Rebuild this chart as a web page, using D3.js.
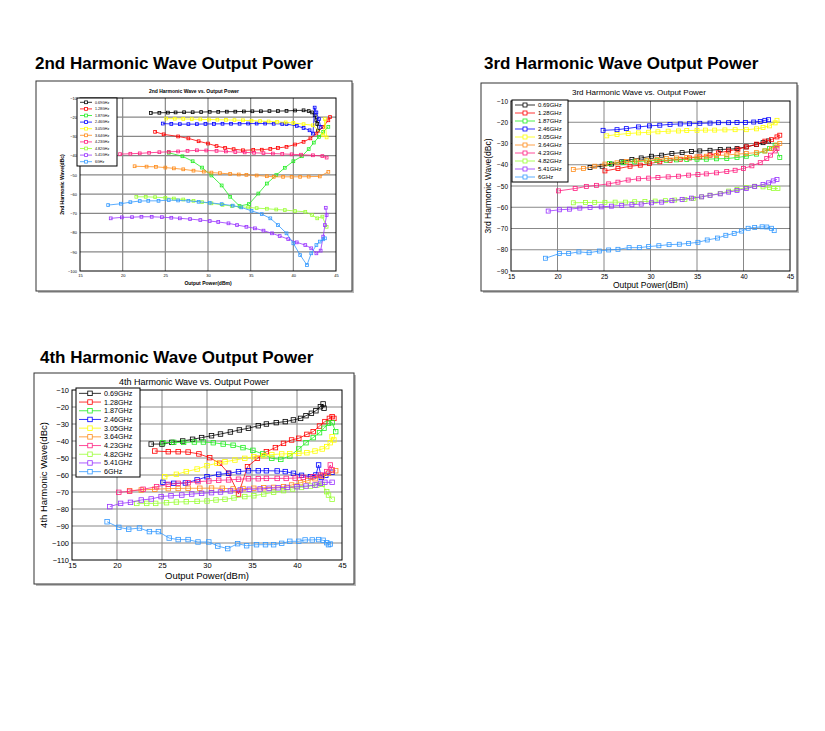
<!DOCTYPE html>
<html><head><meta charset="utf-8">
<script src="https://cdn.jsdelivr.net/npm/d3@7/dist/d3.min.js"></script>
<style>body{margin:0;background:#fff}svg{display:block}</style>
</head><body><svg id="c" width="825" height="731"></svg>
<script>
const seriesNames=["0.69GHz","1.28GHz","1.87GHz","2.46GHz","3.05GHz","3.64GHz","4.23GHz","4.82GHz","5.41GHz","6GHz"];
const seriesColors=["#000000","#ff0000","#22ee22","#0000ff","#ffff00","#ff8c1a","#ff2080","#99ff33","#9933ff","#3399ff"];
const xTicks=[15,20,25,30,35,40,45];
const yTicks2=[-10,-20,-30,-40,-50,-60,-70,-80,-90,-100];
const yTicks3=[-10,-20,-30,-40,-50,-60,-70,-80,-90];
const yTicks4=[-10,-20,-30,-40,-50,-60,-70,-80,-90,-100,-110];

// 2nd harmonic
const h2_069=[[23.3,-17.8],[24.3,-17.7],[25.3,-17.6],[26.2,-17.5],[27.2,-17.4],[28.2,-17.4],[29.2,-17.3],[30.2,-17.2],[31.2,-17.2],[32.2,-17.1],[33.2,-17.1],[34.2,-17],[35.2,-16.9],[36.2,-16.9],[37.2,-16.8],[38.2,-16.8],[39.2,-16.7],[40.2,-16.5],[41.2,-16.4],[41.8,-16.8],[42.2,-17.5],[42.5,-19],[42.7,-21.5],[42.8,-23.5],[42.9,-27]];
const h2_128=[[23.8,-27.6],[24.8,-28.9],[26.5,-30],[27.7,-31],[28.9,-32.5],[30,-33.7],[31,-35],[32,-36],[33,-36.6],[34.1,-37.2],[35.3,-37],[36.3,-36.9],[37.3,-36.5],[38.2,-36],[39.2,-35.4],[40.2,-34.2],[41.2,-32.8],[42,-31],[42.7,-28.5],[43.5,-25],[44.1,-21.6],[44.3,-19.9]];
const h2_187=[[25.4,-38.5],[27,-40.3],[28.2,-42.9],[29.3,-46.2],[30.4,-50.3],[31.6,-55.5],[32.6,-61.4],[33.7,-66.2],[34.8,-65.2],[35.9,-59.7],[36.9,-54.5],[38,-50.1],[39,-46.3],[40,-42.9],[41,-40.3],[41.8,-36.6],[42.4,-33.2],[43,-30.2],[43.5,-27.6],[44.1,-25]];
const h2_246=[[24.7,-23.3],[25.7,-23.5],[26.7,-23.6],[27.7,-23.6],[28.7,-23.6],[29.7,-23.5],[30.7,-23.5],[31.7,-23.4],[32.7,-23.4],[33.7,-23.4],[34.7,-23.3],[35.7,-23.3],[36.7,-23.3],[37.7,-23.4],[38.7,-23.5],[39.2,-23.6],[40.4,-24.5],[41.2,-25.6],[41.9,-26.8],[42.3,-28.5],[42.5,-15],[42.7,-17.5],[43,-21],[43.2,-25]];
const h2_305=[[25.1,-20.7],[26.1,-20.8],[27.1,-20.9],[28.1,-21],[29.1,-21.1],[30.1,-21.2],[31.1,-21.3],[32.1,-21.4],[33.1,-21.5],[34.1,-21.6],[35.1,-21.8],[36.1,-22],[37.1,-22.2],[38.1,-22.4],[39.1,-22.7],[40,-23],[41.2,-23.6],[42.3,-24.2],[43.5,-29.4],[43.7,-21],[43.9,-30.5]];
const h2_364=[[21.4,-45.5],[22.8,-45.7],[23.9,-45.8],[25,-46.2],[26,-46.6],[27.1,-47.1],[28.3,-47.8],[29.5,-48.3],[30.4,-48.8],[31.4,-49.1],[32.6,-49.5],[33.6,-49.8],[34.5,-50],[35.7,-50.3],[36.9,-50.7],[37.7,-51],[38.8,-51],[39.8,-51],[40.8,-51],[41.8,-50.9],[43.1,-50.8],[44.1,-48.4]];
const h2_423=[[19.7,-39.2],[20.9,-39],[22,-38.8],[23.1,-38.5],[24.3,-38.2],[25.4,-38],[26.5,-37.8],[27.6,-37.5],[28.7,-37.2],[29.8,-37.3],[31,-37.5],[32.1,-37.8],[33.2,-38.1],[34.3,-38.3],[35.4,-38.5],[36.5,-38.7],[37.6,-38.9],[38.7,-39.1],[39.8,-39.3],[40.9,-39.5],[42.3,-39.8],[43.4,-40.2],[43.9,-41]];
const h2_482=[[21.6,-61.4],[22.7,-61.4],[23.8,-61.6],[25,-61.9],[26,-62.3],[27.1,-62.8],[28.3,-63.5],[29.3,-64.2],[30.4,-64.8],[31.7,-65.6],[32.8,-66.2],[33.8,-66.6],[34.7,-66.9],[35.7,-67.3],[36.9,-67.6],[38,-68],[39,-68.3],[40.2,-68.8],[41.4,-69.2],[42.2,-70.9],[42.8,-72.6],[43.4,-71.7],[43.9,-77]];
const h2_541=[[18.6,-72.6],[19.9,-72.1],[21.1,-72],[22.2,-71.8],[23.4,-71.8],[24.6,-72],[25.7,-72.3],[26.7,-72.6],[27.9,-73],[29.1,-73.5],[30.2,-74],[31.2,-74.5],[32.4,-75.2],[33.4,-76.1],[34.5,-77],[35.5,-77.8],[36.5,-79],[37.5,-80.4],[38.4,-81.8],[39.4,-83.4],[40.4,-85.1],[41.4,-86.5],[42.1,-88.2],[42.7,-90.8],[43.2,-89.4],[43.5,-82.1],[43.7,-76.1],[43.9,-70.9],[43.8,-67.1]];
const h2_600=[[18.3,-65.7],[19.8,-65],[20.9,-64.2],[22,-63.6],[23,-63.5],[24.2,-63.5],[25.4,-63.1],[26.5,-63.3],[27.7,-63.5],[28.9,-64],[30.2,-64.5],[31.6,-65.2],[32.9,-66],[33.9,-66.9],[35.1,-68.7],[36.3,-70.4],[37.3,-72.6],[38.2,-76.1],[39.2,-80.4],[40,-85.6],[40.8,-91.7],[41.6,-96.9],[42.1,-90.8],[42.7,-86.5],[43.1,-84.7],[43.5,-83.5],[43.7,-83]];

// 3rd harmonic
const h3_069=[[23.5,-41.3],[24.8,-40.7],[25.8,-39.7],[26.9,-38.6],[28,-37.5],[29,-36.8],[30.1,-36],[31.2,-35.5],[32.3,-34.7],[33.4,-34.3],[34.4,-33.8],[35.3,-33.5],[36.4,-33.2],[37.5,-32.8],[38.4,-32.7],[39.3,-32.4],[40.3,-31.6],[41.4,-30.5],[42.1,-29.6],[42.7,-28.8]];
const h3_128=[[25.1,-42.9],[26.5,-41.8],[27.8,-40.7],[28.9,-40.2],[29.9,-39.4],[31,-38.6],[32.1,-37.9],[33.2,-37.4],[34.2,-36.8],[35.3,-36.3],[36.4,-35.5],[37.3,-34.4],[38.4,-33.5],[39.4,-32.7],[40.3,-31.6],[41.4,-30.3],[42.3,-28.9],[43,-28.2],[43.6,-26.9],[43.9,-26.1]];
const h3_187=[[25.6,-39.4],[27.1,-38.9],[28.3,-38.6],[29.6,-38.2],[30.7,-37.9],[31.7,-37.9],[32.8,-37.7],[33.9,-37.5],[35,-37.4],[36,-37.4],[37.1,-37.2],[38.2,-37.1],[39.3,-36.6],[40.3,-36],[41.4,-35],[42.3,-33.5],[42.8,-32.4],[43.4,-30.8],[43.9,-36.6]];
const h3_246=[[24.9,-23.8],[26.4,-23.5],[27.4,-23],[28.7,-22.2],[29.9,-21.7],[31,-21.4],[32.1,-21],[33.2,-20.8],[34.2,-20.7],[35.3,-20.5],[36.4,-20.4],[37.3,-20.2],[38.4,-20.2],[39.3,-20.1],[40.2,-20.1],[41.1,-19.9],[41.8,-19.6],[42.3,-19.1],[42.7,-18.8]];
const h3_305=[[25.3,-26.4],[26.4,-25.8],[27.6,-25.3],[28.7,-25],[29.8,-24.7],[30.8,-24.5],[31.9,-24.2],[33,-24.1],[33.9,-23.9],[35,-23.8],[35.9,-23.7],[36.9,-23.7],[38,-23.6],[39.1,-23.5],[40.3,-23.5],[41.4,-23.1],[42.1,-22.5],[42.8,-21.7],[43.4,-20.3],[43.6,-19.1]];
const h3_364=[[21.7,-42.2],[22.8,-41.8],[24,-40.7],[25.1,-39.7],[26.4,-39.1],[27.4,-38.5],[28.5,-38.2],[29.6,-37.9],[30.7,-37.5],[31.7,-37.1],[32.8,-36.8],[33.9,-36.6],[35,-36.3],[36,-36],[37.1,-35.7],[38.2,-35.4],[39.3,-35],[40.3,-34.7],[41.4,-34.3],[42.3,-33.5],[43,-32.4],[43.6,-30.8],[43.9,-30]];
const h3_423=[[20.1,-52.3],[21.9,-51.2],[23.1,-50.2],[24.2,-49.7],[25.5,-49],[26.5,-48.2],[27.6,-47.2],[28.7,-46.6],[29.8,-46.3],[30.8,-46],[31.9,-45.7],[33,-45.4],[34.1,-44.9],[35.1,-44.6],[36,-44.3],[37.1,-43.8],[38.2,-43.2],[39.1,-42.6],[40,-41.8],[40.9,-40.5],[41.8,-39],[42.5,-37.1],[42.9,-35.5],[43.4,-33.5],[43.6,-32.4]];
const h3_482=[[21.7,-57.9],[23,-57.8],[24,-57.7],[25.1,-57.7],[26.2,-57.6],[27.3,-57.6],[28.3,-57.4],[29.4,-57.3],[30.5,-57.1],[31.6,-56.9],[32.6,-56.6],[33.7,-56.3],[34.6,-55.9],[35.5,-55.1],[36.4,-54.3],[37.5,-53.5],[38.4,-52.4],[39.3,-51.6],[40.3,-50.8],[41.2,-50.1],[42.1,-50.4],[42.8,-50.7],[43.2,-51.2],[43.7,-51.2]];
const h3_541=[[19,-61.8],[20.2,-61.2],[21.3,-60.9],[22.4,-60.4],[23.5,-60.1],[24.7,-59.8],[25.8,-59.5],[26.9,-59.1],[28,-58.8],[29,-58.5],[30.1,-57.9],[31.2,-57.6],[32.3,-56.9],[33.4,-56.3],[34.4,-55.7],[35.5,-55.1],[36.4,-54.4],[37.5,-53.7],[38.4,-52.9],[39.3,-52.1],[40.3,-51.2],[41.2,-50.2],[42.1,-49.3],[42.7,-48.5],[43.2,-47.6],[43.6,-46.9]];
const h3_600=[[18.7,-84],[20.2,-81.8],[21.2,-81.8],[22.3,-81],[23.4,-81.4],[24.5,-80.6],[25.5,-80.1],[26.5,-79.8],[27.7,-79],[28.8,-79],[29.8,-78.5],[30.9,-78.1],[32,-77.6],[33.1,-77.4],[34.1,-77],[35.1,-76.5],[36.1,-75.4],[37.2,-74.5],[38.1,-73.2],[39,-72.3],[39.8,-71.2],[40.5,-69.9],[41.2,-69.5],[42,-69.2],[42.5,-69.3],[43,-69.9],[43.3,-71]];

// 4th harmonic
const h4_069=[[23.8,-41.8],[25,-41.8],[26.1,-40.8],[27.3,-40],[28.4,-39],[29.4,-38],[30.5,-36.9],[31.5,-35.9],[32.6,-34.7],[33.6,-33.5],[34.6,-32.5],[35.7,-31],[36.6,-30],[37.7,-29.2],[38.7,-28.6],[39.6,-27.6],[40.4,-26.7],[41,-25.1],[41.6,-23.7],[42.1,-22.2],[42.6,-19.8],[42.9,-18.2],[43,-20.7]];
const h4_128=[[24.2,-45.9],[25.7,-46.3],[26.8,-46.3],[27.9,-46.5],[29.1,-47.6],[30.3,-49.8],[31.4,-53.1],[32.4,-59],[33.5,-71.2],[34.5,-55.1],[35.6,-50.2],[36.6,-46.3],[37.6,-43.9],[38.5,-41.4],[39.4,-39.4],[40.2,-38.4],[41.1,-36.1],[41.8,-34.5],[42.5,-31.2],[43.1,-28.6],[43.6,-26.7],[43.9,-25.7],[44.1,-26.7]];
const h4_187=[[25.1,-41],[26.3,-40.8],[27.4,-40.8],[28.6,-40.6],[29.6,-40.6],[30.7,-41],[31.8,-41.8],[32.9,-42.5],[34,-43.9],[35.1,-45.5],[36.2,-47.6],[37.2,-50.2],[38.2,-50.8],[39.2,-48.8],[40.2,-44.7],[41,-41],[41.8,-38],[42.5,-35.1],[43,-32.5],[43.5,-29.6],[43.9,-29.2],[44.3,-34.5]];
const h4_246=[[25.1,-64.3],[26.3,-64.9],[27.6,-64.7],[28.9,-62.9],[30,-61],[31.3,-59.6],[32.4,-59],[33.5,-58],[34.6,-57.5],[35.7,-57.5],[36.6,-57.5],[37.8,-57.6],[38.7,-58],[39.6,-59],[40.5,-60.2],[41.5,-61],[42.1,-60],[42.4,-54.1],[42.7,-61.4],[43.2,-60.2],[43.9,-58.4]];
const h4_305=[[25.3,-61],[26.6,-59.6],[27.7,-58],[28.9,-56.5],[30,-54.5],[31.1,-53.1],[32,-52.2],[33.1,-51.2],[34.2,-50.2],[35.2,-49.2],[36.3,-48.6],[37.2,-48],[38.3,-47.6],[39.2,-47.5],[40.2,-47.3],[41.1,-46.9],[42,-45.9],[42.8,-44.7],[43.3,-43.3],[43.7,-41],[43.9,-37.5],[44.1,-39.4]];
const h4_364=[[21.4,-69.2],[22.7,-68.8],[24.2,-68.4],[25.7,-68],[26.8,-67.9],[27.9,-67.8],[29.2,-67.8],[30.5,-67.7],[31.7,-67.8],[32.9,-68.2],[34,-68],[35.2,-67.8],[36.3,-67.5],[37.4,-67.3],[38.5,-66.9],[39.4,-65.9],[40.4,-64.5],[41.2,-63.3],[42,-62.2],[42.8,-60.6],[43.5,-59],[44.3,-57.5]];
const h4_423=[[20.2,-70.2],[21.4,-69.6],[22.9,-68.4],[24.4,-66.9],[25.7,-65.5],[26.8,-64.9],[27.9,-64.5],[29,-63.9],[30.2,-63.5],[31.3,-63.1],[32.4,-62.9],[33.5,-62.5],[34.6,-62.2],[35.7,-62.2],[36.6,-62],[37.8,-62],[38.8,-62],[39.8,-61.8],[40.7,-61.4],[41.8,-61],[42.6,-60],[43.3,-58],[43.7,-54.1],[43.9,-57]];
const h4_482=[[22.2,-76.7],[23.3,-76.7],[24.3,-76.7],[25.5,-76.3],[26.6,-75.9],[27.7,-75.7],[28.9,-75.5],[30,-75.3],[31,-74.7],[32,-74.3],[33,-73.5],[34.2,-72.7],[35.2,-72.2],[36.3,-71.2],[37.4,-70.2],[38.5,-69.2],[39.5,-68.2],[40.5,-67.3],[41.5,-66.5],[42.2,-65.9],[42.8,-65.5],[43.3,-69.8],[43.5,-71.8],[43.9,-74.3]];
const h4_541=[[19.2,-78.6],[20.4,-76.7],[21.5,-76.1],[22.7,-74.7],[23.8,-74.1],[24.9,-72.7],[26,-72.2],[27.2,-71.8],[28.3,-71.2],[29.4,-70.8],[30.5,-70.4],[31.5,-70],[32.6,-69.4],[33.7,-68.8],[34.7,-68.4],[35.9,-68.2],[36.9,-67.8],[37.9,-67.5],[38.9,-67.3],[40,-66.9],[41,-66.5],[42,-65.9],[42.6,-64.9],[43.1,-64.3],[43.9,-64.3]];
const h4_600=[[18.9,-87.5],[20.2,-90.8],[21.3,-91.9],[22.5,-91.2],[23.6,-93.3],[24.6,-93.3],[25.8,-97.1],[26.8,-98],[27.9,-98],[29,-99.4],[30.2,-99.4],[31.2,-101.8],[32.3,-103.3],[33.4,-100.4],[34.4,-101.6],[35.5,-101],[36.5,-101],[37.4,-101],[38.3,-100.2],[39.2,-99],[40.2,-99],[40.9,-98.2],[41.7,-98.2],[42.4,-98],[42.9,-98.4],[43.3,-99.8],[43.5,-101],[43.7,-100.6]];

const svg=d3.select("#c");
const FF="Arial, 'Liberation Sans', sans-serif";

function panel(cfg){
  const g=svg.append("g");
  g.append("text").attr("x",cfg.hx).attr("y",cfg.hy).attr("font-family",FF).attr("font-weight","bold").attr("font-size",17).text(cfg.heading);
  g.append("rect").attr("x",cfg.fx+2).attr("y",cfg.fy+2).attr("width",cfg.fw).attr("height",cfg.fh).attr("fill","#bbb");
  g.append("rect").attr("x",cfg.fx).attr("y",cfg.fy).attr("width",cfg.fw).attr("height",cfg.fh).attr("fill","#fff").attr("stroke","#333").attr("stroke-width",1);
  const x=d3.scaleLinear().domain([15,45]).range([cfg.x0,cfg.x1]);
  const y=d3.scaleLinear().domain([cfg.ymin,-10]).range([cfg.y1,cfg.y0]);
  const gg=g.append("g");
  gg.selectAll(".vx").data(xTicks.slice(1,-1)).join("line").attr("x1",d=>x(d)).attr("x2",d=>x(d)).attr("y1",cfg.y0).attr("y2",cfg.y1).attr("stroke","#888").attr("stroke-width",cfg.gw);
  gg.selectAll(".hy").data(cfg.yt.slice(1,-1)).join("line").attr("y1",d=>y(d)).attr("y2",d=>y(d)).attr("x1",cfg.x0).attr("x2",cfg.x1).attr("stroke","#888").attr("stroke-width",cfg.gw);
  g.append("rect").attr("x",cfg.x0).attr("y",cfg.y0).attr("width",cfg.x1-cfg.x0).attr("height",cfg.y1-cfg.y0).attr("fill","none").attr("stroke","#000").attr("stroke-width",1);
  const xa=g.append("g").attr("transform",`translate(0,${cfg.y1})`).call(d3.axisBottom(x).tickValues(xTicks).tickSize(0).tickPadding(cfg.tp));
  const ya=g.append("g").attr("transform",`translate(${cfg.x0},0)`).call(d3.axisLeft(y).tickValues(cfg.yt).tickSize(0).tickPadding(cfg.tp));
  [xa,ya].forEach(a=>{a.select(".domain").remove();a.selectAll("text").attr("font-family",FF).attr("font-size",cfg.tf).attr("fill","#000");});
  g.append("text").attr("x",(cfg.fx*2+cfg.fw)/2).attr("y",cfg.ty).attr("text-anchor","middle").attr("font-family",FF).attr("font-size",cfg.tif).attr("font-weight",cfg.bold?"bold":"normal").text(cfg.title);
  g.append("text").attr("x",(cfg.x0+cfg.x1)/2).attr("y",cfg.xly).attr("text-anchor","middle").attr("font-family",FF).attr("font-size",cfg.lf).attr("font-weight",cfg.bold?"bold":"normal").text("Output Power(dBm)");
  g.append("text").attr("transform",`translate(${cfg.ylx},${(cfg.y0+cfg.y1)/2}) rotate(-90)`).attr("text-anchor","middle").attr("font-family",FF).attr("font-size",cfg.lf).attr("font-weight",cfg.bold?"bold":"normal").text(cfg.ylab);
  const line=d3.line().x(d=>x(d[0])).y(d=>y(d[1]));
  cfg.data.forEach((s,i)=>{
    const sg=g.append("g");
    sg.append("path").attr("d",line(s)).attr("fill","none").attr("stroke",seriesColors[i]).attr("stroke-width",cfg.lw);
    sg.selectAll("rect").data(s).join("rect").attr("x",d=>x(d[0])-cfg.ms/2).attr("y",d=>y(d[1])-cfg.ms/2).attr("width",cfg.ms).attr("height",cfg.ms).attr("fill","none").attr("stroke",seriesColors[i]).attr("stroke-width",cfg.lw);
  });
  const L=cfg.leg;
  g.append("rect").attr("x",L.x).attr("y",L.y).attr("width",L.w).attr("height",L.h).attr("fill","#fff").attr("stroke","#000").attr("stroke-width",1);
  const step=(L.h-2*L.pad)/seriesNames.length;
  seriesNames.forEach((n,i)=>{
    const cy=L.y+L.pad+step*(i+0.5);
    g.append("line").attr("x1",L.x+3).attr("x2",L.x+3+L.ll).attr("y1",cy).attr("y2",cy).attr("stroke",seriesColors[i]).attr("stroke-width",cfg.lw);
    g.append("rect").attr("x",L.x+3+L.ll/2-cfg.ms/2).attr("y",cy-cfg.ms/2).attr("width",cfg.ms).attr("height",cfg.ms).attr("fill","#fff").attr("stroke",seriesColors[i]).attr("stroke-width",cfg.lw);
    g.append("text").attr("x",L.x+6+L.ll).attr("y",cy).attr("dy","0.35em").attr("font-family",FF).attr("font-size",L.f).text(n);
  });
}

panel({heading:"2nd Harmonic Wave Output Power",hx:35,hy:69,fx:36,fy:81,fw:316,fh:210,x0:80,x1:336,y0:98,y1:271,ymin:-100,yt:yTicks2,
  title:"2nd Harmonic Wave vs. Output Power",ty:93,tif:5,bold:true,tf:4,tp:3,lf:5,xly:285,ylx:64,ylab:"2nd Harmonic Wave(dBc)",
  gw:1.2,lw:0.8,ms:2.8,data:[h2_069,h2_128,h2_187,h2_246,h2_305,h2_364,h2_423,h2_482,h2_541,h2_600],
  leg:{x:77,y:98,w:40,h:68,pad:1,ll:12,f:3.6}});
panel({heading:"3rd Harmonic Wave Output Power",hx:484,hy:69,fx:481,fy:83,fw:316,fh:208,x0:511,x1:790,y0:101,y1:271,ymin:-90,yt:yTicks3,
  title:"3rd Harmonic Wave vs. Output Power",ty:95,tif:8,bold:false,tf:6.5,tp:3,lf:8.5,xly:288,ylx:491,ylab:"3rd Harmonic Wave(dBc)",
  gw:1,lw:0.8,ms:4,data:[h3_069,h3_128,h3_187,h3_246,h3_305,h3_364,h3_423,h3_482,h3_541,h3_600],
  leg:{x:512,y:100,w:56,h:82,pad:1,ll:20,f:6}});
panel({heading:"4th Harmonic Wave Output Power",hx:40,hy:363,fx:34,fy:373,fw:320,fh:211,x0:72,x1:342,y0:390,y1:560,ymin:-110,yt:yTicks4,
  title:"4th Harmonic Wave vs. Output Power",ty:385,tif:9,bold:false,tf:7.5,tp:3,lf:9.5,xly:579,ylx:47,ylab:"4th Harmonic Wave(dBc)",
  gw:1,lw:0.8,ms:4.5,data:[h4_069,h4_128,h4_187,h4_246,h4_305,h4_364,h4_423,h4_482,h4_541,h4_600],
  leg:{x:76,y:388,w:64,h:89,pad:1,ll:22,f:7.2}});
</script></body></html>
